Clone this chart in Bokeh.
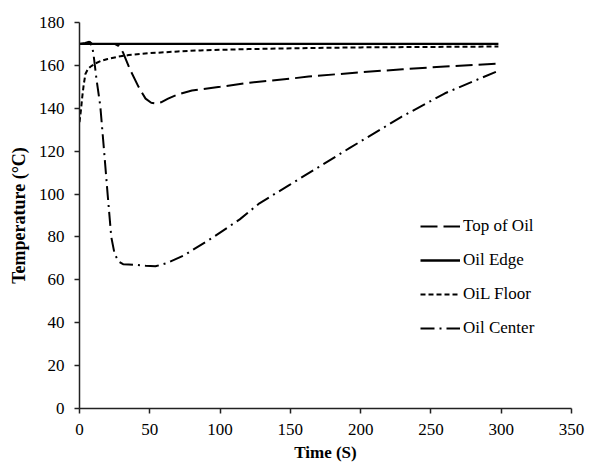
from bokeh.plotting import figure
from bokeh.models import Legend, LegendItem, Range1d, FixedTicker
from bokeh.embed import file_html
from bokeh.resources import INLINE

# ---- data ----
top_t = [0, 10, 20, 25, 28, 31, 36, 42, 47, 51, 54, 58, 63, 70, 80, 100, 121, 150, 163, 200, 230, 260, 298]
top_v = [170, 170, 170, 170, 169, 166, 158, 150, 144.5, 142.6, 142.3, 142.8, 144.5, 146.5, 148.3, 150,
         151.9, 153.8, 154.8, 156.8, 158.2, 159.5, 160.8]

edge_t = [0, 5, 7, 9, 12, 100, 200, 298]
edge_v = [170, 170, 171, 170, 170, 170, 170, 170]

floor_t = [0, 1, 2, 3, 4.2, 6, 8, 11, 15, 20, 27, 35, 50, 70, 86, 120, 163, 200, 250, 298]
floor_v = [133.5, 139, 145.5, 151, 156, 158.3, 159.5, 160.8, 162, 163, 164, 164.8, 165.7, 166.5, 167,
           167.6, 168.1, 168.4, 168.6, 168.8]

center_t = [0, 4, 7, 9, 10, 12, 14.8, 17.5, 20, 22.6, 25, 28, 31, 35, 40, 47, 54, 62, 74, 94, 114, 128,
            150, 192, 229, 260, 298]
center_v = [170, 170.5, 171, 169, 165, 154, 141, 120, 100, 80, 72, 68.5, 67.3, 67.2, 67, 66.6, 66.3,
            67.8, 71.3, 79.4, 88.2, 95.7, 104.5, 121.4, 136, 147, 157.5]

x_ticks = [0, 50, 100, 150, 200, 250, 300, 350]
y_ticks = [0, 20, 40, 60, 80, 100, 120, 140, 160, 180]

FONT = "'Liberation Serif', 'Times New Roman', serif"

p = figure(width=589, height=468, output_backend="svg", toolbar_location=None,
           x_range=Range1d(0, 350), y_range=Range1d(0, 180),
           min_border_left=79, min_border_right=18, min_border_top=22, min_border_bottom=60)
p.outline_line_color = None
p.xgrid.grid_line_color = None
p.ygrid.grid_line_color = None
p.background_fill_color = "white"
p.border_fill_color = "white"

r_top = p.line(top_t, top_v, line_color="black", line_width=2, line_dash="17 6")
r_edge = p.line(edge_t, edge_v, line_color="black", line_width=2.3)
r_floor = p.line(floor_t, floor_v, line_color="black", line_width=2, line_dash="5 3")
r_center = p.line(center_t, center_v, line_color="black", line_width=2, line_dash="14 5 2 5")

for ax in (p.xaxis[0], p.yaxis[0]):
    ax.axis_line_color = "#222222"
    ax.axis_line_width = 1.5
    ax.major_tick_line_color = "#222222"
    ax.major_tick_line_width = 1.5
    ax.major_tick_in = 0
    ax.major_tick_out = 5
    ax.minor_tick_line_color = None
    ax.major_label_text_font = FONT
    ax.major_label_text_font_size = "17px"
    ax.major_label_text_color = "black"
    ax.axis_label_text_font = FONT
    ax.axis_label_text_font_style = "bold"
    ax.axis_label_text_color = "black"

p.xaxis.axis_label_text_font_size = "17px"
p.yaxis.axis_label_text_font_size = "18px"
p.xaxis.ticker = FixedTicker(ticks=x_ticks)
p.yaxis.ticker = FixedTicker(ticks=y_ticks)
p.xaxis.axis_label = "Time (S)"
p.yaxis.axis_label = "Temperature (°C)"
p.xaxis.major_label_standoff = 10
p.yaxis.major_label_standoff = 10
p.xaxis.axis_label_standoff = 5
p.yaxis.axis_label_standoff = 7

legend = Legend(items=[
    LegendItem(label="Top of Oil", renderers=[r_top]),
    LegendItem(label="Oil Edge", renderers=[r_edge]),
    LegendItem(label="OiL Floor", renderers=[r_floor]),
    LegendItem(label="Oil Center", renderers=[r_center]),
], location=(341, 70))
legend.border_line_color = None
legend.background_fill_alpha = 0
legend.padding = 0
legend.margin = 0
legend.spacing = 14
legend.glyph_width = 40
legend.glyph_height = 20
legend.label_height = 20
legend.label_standoff = 3
legend.label_text_font = FONT
legend.label_text_font_size = "17px"
legend.label_text_color = "black"
p.add_layout(legend, "center")

open("out.html", "w").write(file_html(p, INLINE))
